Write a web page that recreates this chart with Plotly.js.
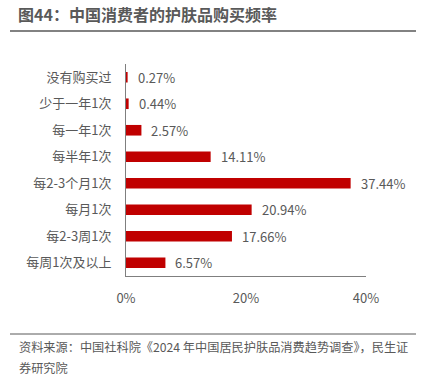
<!DOCTYPE html>
<html><head><meta charset="utf-8">
<script src="https://cdn.plot.ly/plotly-3.0.1.min.js"></script>
<style>html,body{margin:0;padding:0;background:#fff}#c{width:426px;height:378px}</style>
</head><body><div id="c"></div>
<script>
const categories = ["没有购买过","少于一年1次","每一年1次","每半年1次","每2-3个月1次","每月1次","每2-3周1次","每周1次及以上"];
const values = [0.27,0.44,2.57,14.11,37.44,20.94,17.66,6.57];
const tickVals = [0,20,40];
const tickText = ["0%","20%","40%"];
const titleText = "图44：中国消费者的护肤品购买频率";
const sourceLines = ["资料来源：中国社科院《2024 年中国居民护肤品消费趋势调查》，民生证","券研究院"];

const F = '"Noto Sans CJK SC", "Noto Sans", sans-serif';
const gray = '#595959';
const L=126, R=60, T=64, B=102, W=426, H=378;
const pw = W-L-R, ph = H-T-B;
const px = x => (x-L)/pw;
const py = y => (H-B-y)/ph;

const ann = values.map((v,i)=>({x:v,y:categories[i],xref:'x',yref:'y',text:v.toFixed(2)+'%',showarrow:false,xanchor:'left',xshift:8,font:{family:F,size:13,color:gray}}));
sourceLines.forEach((t,i)=>ann.push({x:px(17),y:py(347+i*21),xref:'paper',yref:'paper',text:t,showarrow:false,xanchor:'left',yanchor:'middle',font:{family:F,size:12.2,color:gray}}));

Plotly.newPlot('c',[{type:'bar',orientation:'h',x:values,y:categories,marker:{color:'#C00000'},hoverinfo:'none'}],{
  width:W,height:H,margin:{l:L,r:R,t:T,b:B},
  paper_bgcolor:'#fff',plot_bgcolor:'#fff',
  bargap:0.6,showlegend:false,
  title:{text:'<b>'+titleText+'</b>',x:18/W,xanchor:'left',xref:'container',y:1-15/H,yanchor:'middle',yref:'container',font:{family:F,size:16,color:gray}},
  xaxis:{range:[0,40],tickvals:tickVals,ticktext:tickText,showgrid:false,zeroline:false,showline:true,linecolor:'#7f7f7f',linewidth:1,ticks:'',ticklabelstandoff:10,tickfont:{family:F,size:13,color:gray},fixedrange:true},
  yaxis:{autorange:'reversed',showgrid:false,showline:true,linecolor:'#7f7f7f',linewidth:1,ticks:'',ticklabelstandoff:11,tickfont:{family:F,size:13,color:gray},fixedrange:true},
  shapes:[
    {type:'line',xref:'paper',yref:'paper',x0:px(10),x1:px(416),y0:py(31),y1:py(31),line:{color:'#595959',width:1.5}},
    {type:'line',xref:'paper',yref:'paper',x0:px(10),x1:px(416),y0:py(334),y1:py(334),line:{color:'#595959',width:1}}
  ],
  annotations:ann
},{staticPlot:true});
</script></body></html>
